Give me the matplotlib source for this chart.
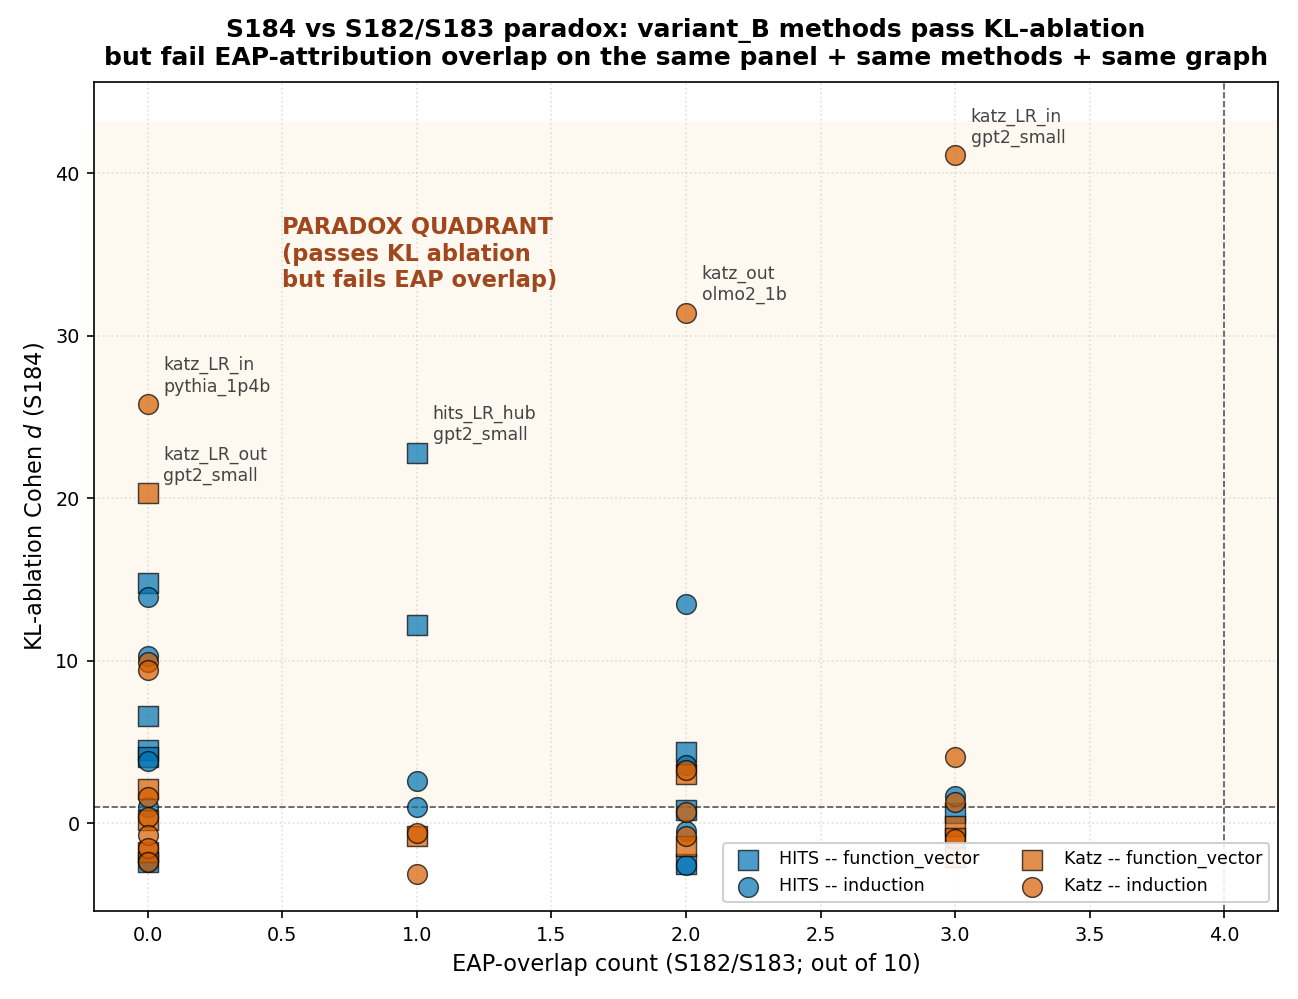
import matplotlib
matplotlib.use("Agg")
import matplotlib.pyplot as plt

# KL-ablation Cohen d (S184) vs EAP-overlap count (S182/S183), by method x panel
HITS_FV_X = [0, 0, 0, 0, 0, 1, 1, 2, 2, 2, 3]
HITS_FV_Y = [14.8, 6.6, 4.5, 4.1, -2.4, 22.8, 12.2, 4.4, 0.8, -2.5, 0.6]

HITS_IND_X = [0, 0, 0, 0, 0, 1, 1, 2, 2, 2, 2, 3]
HITS_IND_Y = [13.9, 10.3, 3.8, 1.0, -2.3, 2.6, 1.0, 13.5, 3.6, -0.5, -2.6, 1.7]

KATZ_FV_X = [0, 0, 0, 0, 1, 2, 2, 3, 3, 3]
KATZ_FV_Y = [20.3, 2.1, 0.2, -1.8, -0.8, 3.0, -1.4, -0.2, -0.9, -2.1]

KATZ_IND_X = [0, 0, 0, 0, 0, 0, 0, 0, 1, 1, 2, 2, 2, 2, 3, 3, 3, 3]
KATZ_IND_Y = [25.8, 9.9, 9.4, 1.6, 0.4, -0.7, -1.5, -2.4, -0.6, -3.1,
              31.4, 3.3, 0.7, -0.8, 41.1, 4.1, 1.3, -1.0]

ANNOT_X = [0, 0, 1, 2, 3]
ANNOT_Y = [25.8, 20.3, 22.8, 31.4, 41.1]
ANNOT_TEXT = [
    "katz_LR_in\npythia_1p4b",
    "katz_LR_out\ngpt2_small",
    "hits_LR_hub\ngpt2_small",
    "katz_out\nolmo2_1b",
    "katz_LR_in\ngpt2_small",
]

KL_THRESHOLD = 1.0
EAP_THRESHOLD = 4.0

BLUE = "#0072B2"
ORANGE = "#D55E00"


def main() -> None:
    fig = plt.figure(figsize=(1298 / 150, 999 / 150), dpi=150)
    ax = fig.add_axes([0.0724, 0.0881, 0.9122, 0.8298])

    y_top = max(KATZ_IND_Y + HITS_FV_Y) * 1.05
    ax.axhspan(KL_THRESHOLD, y_top, color="#FDF8F0", zorder=0)

    groups = [
        (HITS_FV_X, HITS_FV_Y, BLUE, "s", "HITS -- function_vector"),
        (HITS_IND_X, HITS_IND_Y, BLUE, "o", "HITS -- induction"),
        (KATZ_FV_X, KATZ_FV_Y, ORANGE, "s", "Katz -- function_vector"),
        (KATZ_IND_X, KATZ_IND_Y, ORANGE, "o", "Katz -- induction"),
    ]
    for xs, ys, color, marker, label in groups:
        ax.scatter(xs, ys, s=90, marker=marker, color=color, alpha=0.7,
                   edgecolor="black", linewidth=0.7, label=label, zorder=3)

    ax.axhline(KL_THRESHOLD, color="#555555", linestyle="--", linewidth=0.8, zorder=2)
    ax.axvline(EAP_THRESHOLD, color="#555555", linestyle="--", linewidth=0.8, zorder=2)

    for x, y, txt in zip(ANNOT_X, ANNOT_Y, ANNOT_TEXT):
        ax.annotate(txt, (x, y), xytext=(7.5, 4), textcoords="offset points",
                    fontsize=8.3, color="#444444", ha="left", va="bottom")

    ax.text(0.5, 35, "PARADOX QUADRANT\n(passes KL ablation\nbut fails EAP overlap)",
            fontsize=10.8, fontweight="bold", color="#A0471D", ha="left", va="center")

    ax.grid(True, linestyle=":", color="#CCCCCC", alpha=0.6, linewidth=0.8)
    ax.set_axisbelow(True)
    ax.set_xlim(-0.2, 4.2)
    ax.set_ylim(-5.4, 45.6)

    ax.set_xlabel("EAP-overlap count (S182/S183; out of 10)", fontsize=10.8)
    ax.set_ylabel("KL-ablation Cohen $d$ (S184)", fontsize=10.8)
    ax.set_title("S184 vs S182/S183 paradox: variant_B methods pass KL-ablation\n"
                 "but fail EAP-attribution overlap on the same panel + same methods + same graph",
                 fontsize=12, fontweight="bold", pad=8)
    ax.tick_params(labelsize=9.2)

    ax.legend(loc="lower right", ncol=2, fontsize=8.4, framealpha=0.9)

    fig.savefig("out.png", dpi=150)
    plt.close(fig)


if __name__ == "__main__":
    main()
